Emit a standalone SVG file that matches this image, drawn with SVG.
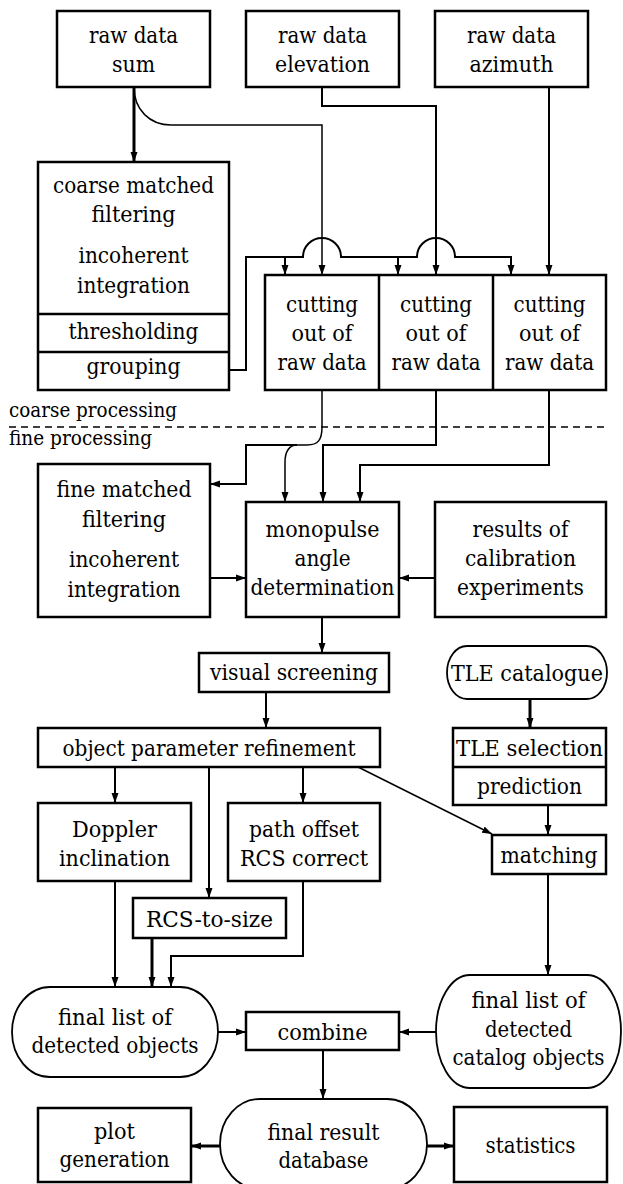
<svg xmlns="http://www.w3.org/2000/svg" width="623" height="1184" viewBox="0 0 623 1184">
<style>
.box{fill:#fff;stroke:#000;stroke-width:2.5}
.rnd{fill:#fff;stroke:#000;stroke-width:1.8}
.t{font-size:23px;text-anchor:middle;fill:#000}
.lbl{font-size:21px;fill:#000}
.c{fill:none;stroke:#000;stroke-width:2}
.thin{stroke-width:1.5}
.thick{stroke-width:3}
</style>
<defs>
<marker id="ah" markerUnits="userSpaceOnUse" markerWidth="10" markerHeight="8" refX="10" refY="4" orient="auto">
<path d="M0,0.5 L10,4 L0,7.5 z" fill="#000"/>
</marker>
</defs>
<rect width="623" height="1184" fill="#fff"/>

<g id="connectors">
<path class="c thick" d="M134,87 V162" marker-end="url(#ah)"/>
<path class="c thin" d="M134,87 C134,110 150,125 171,125 H322 V275" marker-end="url(#ah)"/>
<path class="c" d="M322,87 V106 H436 V275" marker-end="url(#ah)"/>
<path class="c" d="M549,87 V275" marker-end="url(#ah)"/>
<path class="c" d="M229,370 H246 V257 H303 A19,19 0 0 1 341,257 H417 A19,19 0 0 1 455,257 H511 V275" marker-end="url(#ah)"/>
<path class="c" d="M285,257 V275" marker-end="url(#ah)"/>
<path class="c" d="M398,257 V275" marker-end="url(#ah)"/>
<path class="c thin" d="M322,390 V427 C322,440 318,445 307,445 H297 C289,445 285,452 285,462 V502" marker-end="url(#ah)"/>
<path class="c" d="M297,445 H246 V484 H210" marker-end="url(#ah)"/>
<path class="c" d="M436,390 V445 H323 V502" marker-end="url(#ah)"/>
<path class="c" d="M549,390 V465 H360 V502" marker-end="url(#ah)"/>
<path class="c" d="M210,578 H246" marker-end="url(#ah)"/>
<path class="c" d="M435,578 H399" marker-end="url(#ah)"/>
<path class="c" d="M322,617 V653" marker-end="url(#ah)"/>
<path class="c" d="M266,692 V728" marker-end="url(#ah)"/>
<path class="c" d="M115,767 V803" marker-end="url(#ah)"/>
<path class="c" d="M209,767 V898" marker-end="url(#ah)"/>
<path class="c" d="M303,767 V803" marker-end="url(#ah)"/>
<path class="c thin" d="M358,767 L492,834" marker-end="url(#ah)"/>
<path class="c thick" d="M530,699 V728" marker-end="url(#ah)"/>
<path class="c" d="M548,805 V835" marker-end="url(#ah)"/>
<path class="c" d="M548,874 V975" marker-end="url(#ah)"/>
<path class="c" d="M115,881 V987" marker-end="url(#ah)"/>
<path class="c thick" d="M152,938 V987" marker-end="url(#ah)"/>
<path class="c" d="M303,881 V956 H171 V987" marker-end="url(#ah)"/>
<path class="c" d="M218,1032 H246" marker-end="url(#ah)"/>
<path class="c" d="M437,1032 H399" marker-end="url(#ah)"/>
<path class="c" d="M323,1050 V1099" marker-end="url(#ah)"/>
<path class="c thick" d="M220,1146 H191" marker-end="url(#ah)"/>
<path class="c thick" d="M427,1146 H454" marker-end="url(#ah)"/>
</g>

<g font-family="'DejaVu Serif', serif">
<g id="phase-labels">
<line x1="9" y1="427" x2="606" y2="427" stroke="#000" stroke-width="1.6" stroke-dasharray="7,5"/>
<text class="lbl" x="9" y="417" textLength="168" lengthAdjust="spacingAndGlyphs">coarse processing</text>
<text class="lbl" x="9" y="445" textLength="143" lengthAdjust="spacingAndGlyphs">fine processing</text>
</g>

<g id="raw-sum">
<rect class="box" x="57" y="11" width="153" height="76"/>
<text class="t" x="133.5" y="43" textLength="89" lengthAdjust="spacingAndGlyphs">raw data</text>
<text class="t" x="133.5" y="72" textLength="43" lengthAdjust="spacingAndGlyphs">sum</text>
</g>
<g id="raw-elevation">
<rect class="box" x="246" y="11" width="153" height="76"/>
<text class="t" x="322.5" y="43" textLength="89" lengthAdjust="spacingAndGlyphs">raw data</text>
<text class="t" x="322.5" y="72" textLength="95" lengthAdjust="spacingAndGlyphs">elevation</text>
</g>
<g id="raw-azimuth">
<rect class="box" x="435" y="11" width="153" height="76"/>
<text class="t" x="511.5" y="43" textLength="89" lengthAdjust="spacingAndGlyphs">raw data</text>
<text class="t" x="511.5" y="72" textLength="84" lengthAdjust="spacingAndGlyphs">azimuth</text>
</g>

<g id="coarse">
<rect class="box" x="38" y="162" width="191" height="228"/>
<line class="box" x1="38" y1="314" x2="229" y2="314"/>
<line class="box" x1="38" y1="352" x2="229" y2="352"/>
<text class="t" x="133.5" y="193" textLength="161" lengthAdjust="spacingAndGlyphs">coarse matched</text>
<text class="t" x="133.5" y="222" textLength="84" lengthAdjust="spacingAndGlyphs">filtering</text>
<text class="t" x="133.5" y="263" textLength="110" lengthAdjust="spacingAndGlyphs">incoherent</text>
<text class="t" x="133.5" y="293" textLength="113" lengthAdjust="spacingAndGlyphs">integration</text>
<text class="t" x="133.5" y="339" textLength="130" lengthAdjust="spacingAndGlyphs">thresholding</text>
<text class="t" x="133.5" y="374" textLength="94" lengthAdjust="spacingAndGlyphs">grouping</text>
</g>

<g id="cutting">
<rect class="box" x="265" y="275" width="341" height="115"/>
<line class="box" x1="379" y1="275" x2="379" y2="390"/>
<line class="box" x1="493" y1="275" x2="493" y2="390"/>
<text class="t" x="322" y="312" textLength="72" lengthAdjust="spacingAndGlyphs">cutting</text>
<text class="t" x="322" y="341" textLength="61" lengthAdjust="spacingAndGlyphs">out of</text>
<text class="t" x="322" y="370" textLength="89" lengthAdjust="spacingAndGlyphs">raw data</text>
<text class="t" x="436" y="312" textLength="72" lengthAdjust="spacingAndGlyphs">cutting</text>
<text class="t" x="436" y="341" textLength="61" lengthAdjust="spacingAndGlyphs">out of</text>
<text class="t" x="436" y="370" textLength="89" lengthAdjust="spacingAndGlyphs">raw data</text>
<text class="t" x="549.5" y="312" textLength="72" lengthAdjust="spacingAndGlyphs">cutting</text>
<text class="t" x="549.5" y="341" textLength="61" lengthAdjust="spacingAndGlyphs">out of</text>
<text class="t" x="549.5" y="370" textLength="89" lengthAdjust="spacingAndGlyphs">raw data</text>
</g>

<g id="fine">
<rect class="box" x="38" y="464" width="172" height="153"/>
<text class="t" x="124" y="497" textLength="135" lengthAdjust="spacingAndGlyphs">fine matched</text>
<text class="t" x="124" y="527" textLength="84" lengthAdjust="spacingAndGlyphs">filtering</text>
<text class="t" x="124" y="567" textLength="110" lengthAdjust="spacingAndGlyphs">incoherent</text>
<text class="t" x="124" y="597" textLength="113" lengthAdjust="spacingAndGlyphs">integration</text>
</g>
<g id="monopulse">
<rect class="box" x="246" y="502" width="153" height="115" stroke-width="3"/>
<text class="t" x="322.5" y="537" textLength="114" lengthAdjust="spacingAndGlyphs">monopulse</text>
<text class="t" x="322.5" y="566" textLength="56" lengthAdjust="spacingAndGlyphs">angle</text>
<text class="t" x="322.5" y="595" textLength="144" lengthAdjust="spacingAndGlyphs">determination</text>
</g>
<g id="calibration">
<rect class="box" x="435" y="502" width="171" height="115"/>
<text class="t" x="520.5" y="537" textLength="96" lengthAdjust="spacingAndGlyphs">results of</text>
<text class="t" x="520.5" y="566" textLength="111" lengthAdjust="spacingAndGlyphs">calibration</text>
<text class="t" x="520.5" y="595" textLength="127" lengthAdjust="spacingAndGlyphs">experiments</text>
</g>

<g id="visual">
<rect class="box" x="199" y="653" width="190" height="39"/>
<text class="t" x="294" y="680" textLength="168" lengthAdjust="spacingAndGlyphs">visual screening</text>
</g>
<g id="refinement">
<rect class="box" x="38" y="728" width="342" height="39"/>
<text class="t" x="209" y="756" textLength="293" lengthAdjust="spacingAndGlyphs">object parameter refinement</text>
</g>
<g id="tle-catalogue">
<rect class="rnd" x="447" y="646" width="160" height="53" rx="20" ry="26.5"/>
<text class="t" x="527" y="681" textLength="152" lengthAdjust="spacingAndGlyphs">TLE catalogue</text>
</g>
<g id="tle-selection">
<rect class="box" x="453" y="728" width="153" height="77"/>
<line class="box" x1="453" y1="767" x2="606" y2="767"/>
<text class="t" x="529.5" y="756" textLength="147" lengthAdjust="spacingAndGlyphs">TLE selection</text>
<text class="t" x="529.5" y="794" textLength="105" lengthAdjust="spacingAndGlyphs">prediction</text>
</g>
<g id="doppler">
<rect class="box" x="38" y="803" width="153" height="78"/>
<text class="t" x="114.5" y="837" textLength="85" lengthAdjust="spacingAndGlyphs">Doppler</text>
<text class="t" x="114.5" y="866" textLength="111" lengthAdjust="spacingAndGlyphs">inclination</text>
</g>
<g id="path-offset">
<rect class="box" x="228" y="803" width="152" height="78"/>
<text class="t" x="304" y="837" textLength="110" lengthAdjust="spacingAndGlyphs">path offset</text>
<text class="t" x="304" y="866" textLength="128" lengthAdjust="spacingAndGlyphs">RCS correct</text>
</g>
<g id="matching">
<rect class="box" x="492" y="835" width="114" height="39"/>
<text class="t" x="549" y="863" textLength="97" lengthAdjust="spacingAndGlyphs">matching</text>
</g>
<g id="rcs-size">
<rect class="box" x="133" y="898" width="153" height="40"/>
<text class="t" x="209.5" y="927" textLength="127" lengthAdjust="spacingAndGlyphs">RCS-to-size</text>
</g>

<g id="final-detected">
<rect class="rnd" x="12" y="987" width="206" height="90" rx="38" ry="45"/>
<text class="t" x="115" y="1025" textLength="114" lengthAdjust="spacingAndGlyphs">final list of</text>
<text class="t" x="115" y="1053" textLength="167" lengthAdjust="spacingAndGlyphs">detected objects</text>
</g>
<g id="final-catalog">
<rect class="rnd" x="436" y="975" width="185" height="113" rx="34" ry="56.5"/>
<text class="t" x="528.5" y="1008" textLength="114" lengthAdjust="spacingAndGlyphs">final list of</text>
<text class="t" x="528.5" y="1037" textLength="87" lengthAdjust="spacingAndGlyphs">detected</text>
<text class="t" x="528.5" y="1065" textLength="152" lengthAdjust="spacingAndGlyphs">catalog objects</text>
</g>
<g id="combine">
<rect class="box" x="246" y="1012" width="153" height="38"/>
<text class="t" x="322.5" y="1040" textLength="90" lengthAdjust="spacingAndGlyphs">combine</text>
</g>
<g id="database">
<rect class="rnd" x="220" y="1099" width="207" height="90" rx="40" ry="45"/>
<text class="t" x="323.5" y="1140" textLength="112" lengthAdjust="spacingAndGlyphs">final result</text>
<text class="t" x="323.5" y="1168" textLength="90" lengthAdjust="spacingAndGlyphs">database</text>
</g>
<g id="plot">
<rect class="box" x="38" y="1108" width="153" height="74"/>
<text class="t" x="114.5" y="1139" textLength="41" lengthAdjust="spacingAndGlyphs">plot</text>
<text class="t" x="114.5" y="1167" textLength="110" lengthAdjust="spacingAndGlyphs">generation</text>
</g>
<g id="statistics">
<rect class="box" x="454" y="1107" width="153" height="75"/>
<text class="t" x="530.5" y="1153" textLength="90" lengthAdjust="spacingAndGlyphs">statistics</text>
</g>
</g>
</svg>
